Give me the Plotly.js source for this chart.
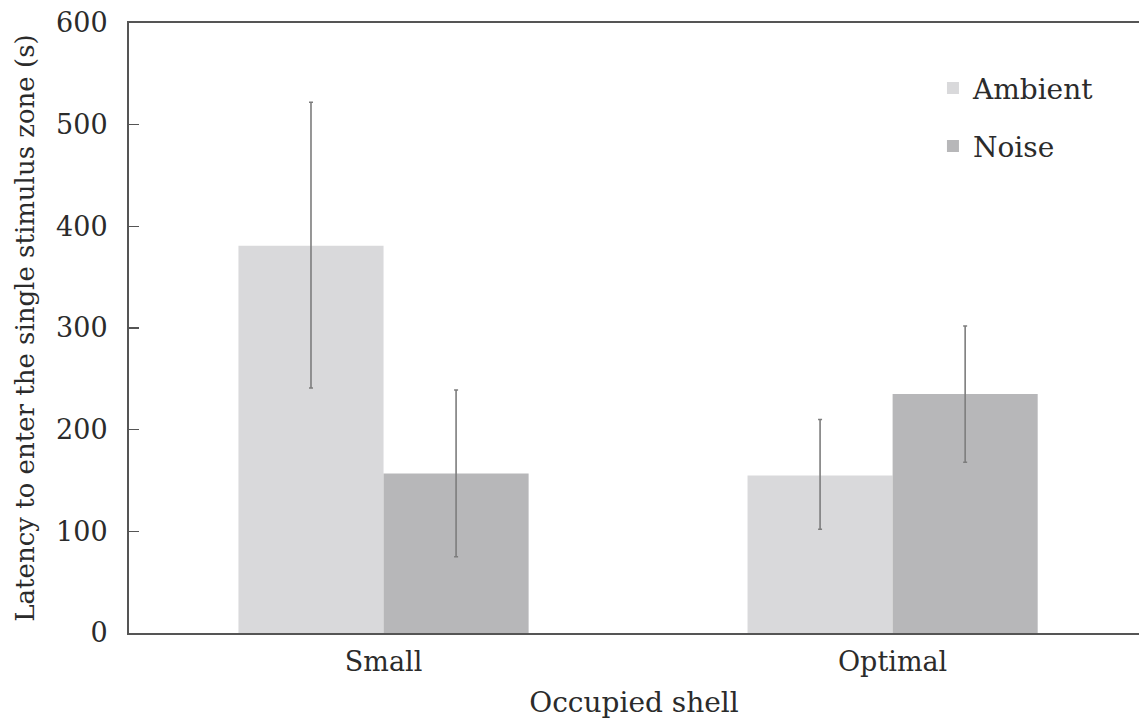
<!DOCTYPE html>
<html>
<head>
<meta charset="utf-8">
<script src="https://cdn.plot.ly/plotly-3.0.1.min.js"></script>
<style>html,body{margin:0;padding:0;background:#fff;}#chart{width:1139px;height:722px;}</style>
</head>
<body>
<div id="chart"></div>
<script>
const categories = ["Small", "Optimal"];
const ambientMean = [381, 155];
const ambientUpper = [522, 210];
const ambientLower = [241, 102];
const noiseMean = [157, 235];
const noiseUpper = [239, 302];
const noiseLower = [75, 168];
const yTicks = [0, 100, 200, 300, 400, 500, 600];

const fontFam = "DejaVu Serif, Liberation Serif, serif";
const txtColor = "#2b2b2b";

function plusErr(mean, up) { return mean.map((m, i) => up[i] - m); }
function minusErr(mean, lo) { return mean.map((m, i) => m - lo[i]); }

const errStyle = { type: "data", symmetric: false, color: "#7d7d7d", thickness: 1.6, width: 2 };

const traces = [
  {
    type: "bar", name: "Ambient", x: categories, y: ambientMean,
    marker: { color: "#d9d9db", line: { width: 0 } },
    error_y: Object.assign({}, errStyle, { array: plusErr(ambientMean, ambientUpper), arrayminus: minusErr(ambientMean, ambientLower) }),
    legend: "legend"
  },
  {
    type: "bar", name: "Noise", x: categories, y: noiseMean,
    marker: { color: "#b7b7b9", line: { width: 0 } },
    error_y: Object.assign({}, errStyle, { array: plusErr(noiseMean, noiseUpper), arrayminus: minusErr(noiseMean, noiseLower) }),
    legend: "legend2"
  }
];

const legendBase = {
  xanchor: "left", yanchor: "middle", bgcolor: "rgba(0,0,0,0)",
  font: { family: fontFam, size: 28, color: txtColor }, itemwidth: 30
};

const layout = {
  width: 1139, height: 722,
  margin: { l: 129, r: 0, t: 23, b: 89 },
  paper_bgcolor: "#ffffff", plot_bgcolor: "#ffffff",
  barmode: "group", bargap: 0.43, bargroupgap: 0,
  font: { family: fontFam, color: txtColor },
  xaxis: {
    type: "category", range: [-0.5, 1.484],
    showline: true, linecolor: "#555555", linewidth: 2, mirror: true,
    ticks: "", showgrid: false, zeroline: false,
    ticklabelstandoff: 4,
    tickfont: { family: fontFam, size: 27, color: txtColor },
    title: { text: "Occupied shell", font: { family: fontFam, size: 28, color: txtColor }, standoff: 16 }
  },
  yaxis: {
    range: [0, 600], tickvals: yTicks, ticktext: yTicks.map(String),
    showline: true, linecolor: "#555555", linewidth: 2,
    ticks: "inside", ticklen: 10, tickwidth: 1.5, tickcolor: "#555555",
    showgrid: false, zeroline: false,
    ticklabelstandoff: 14,
    tickfont: { family: fontFam, size: 27, color: txtColor },
    title: { text: "Latency to enter the single stimulus zone (s)", font: { family: fontFam, size: 26, color: txtColor }, standoff: 14 }
  },
  legend: Object.assign({}, legendBase, { x: 0.796, y: 0.893 }),
  legend2: Object.assign({}, legendBase, { x: 0.796, y: 0.798 }),
  showlegend: true
};

Plotly.newPlot("chart", traces, layout, { displayModeBar: false, staticPlot: true });
</script>
</body>
</html>
